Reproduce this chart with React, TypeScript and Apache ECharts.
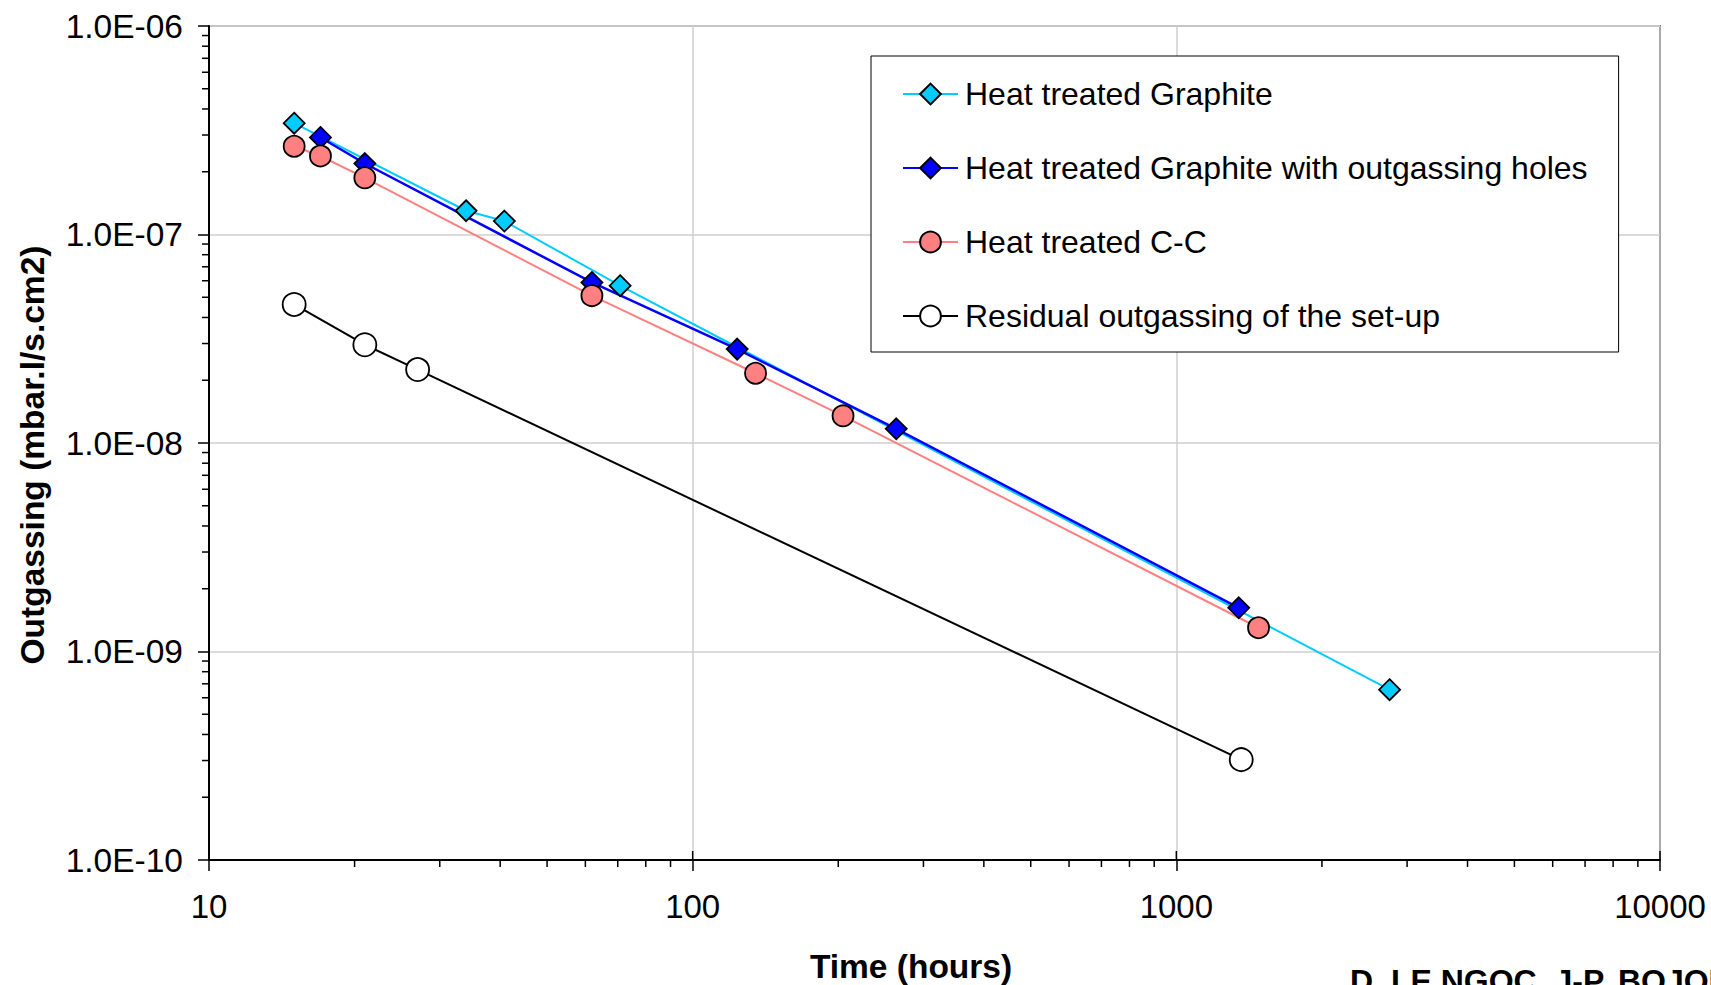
import React, { useEffect, useRef } from "react";
import * as echarts from "echarts";

// ---- Data ----
const xTickLabels = ["10", "100", "1000", "10000"];
const yTickLabels = ["1.0E-10", "1.0E-09", "1.0E-08", "1.0E-07", "1.0E-06"];

const seriesNames = [
  "Heat treated Graphite",
  "Heat treated Graphite with outgassing holes",
  "Heat treated C-C",
  "Residual outgassing of the set-up",
];

const graphiteX = [15, 34, 40.8, 70.8, 2760];
const graphiteY = [3.42e-7, 1.3e-7, 1.16e-7, 5.68e-8, 6.56e-10];

const holesX = [17, 21, 61.9, 123.6, 263.6, 1346];
const holesY = [2.92e-7, 2.19e-7, 5.89e-8, 2.82e-8, 1.17e-8, 1.62e-9];

const ccX = [15, 17, 21, 61.9, 134.9, 204.6, 1479];
const ccY = [2.65e-7, 2.38e-7, 1.87e-7, 5.09e-8, 2.16e-8, 1.35e-8, 1.3e-9];

const residualX = [15, 21, 27, 1362];
const residualY = [4.62e-8, 2.96e-8, 2.25e-8, 3.03e-10];

const xDecades = [10, 100, 1000];
const yDecades = [1e-10, 1e-9, 1e-8, 1e-7];
const minorMultipliers = [2, 3, 4, 5, 6, 7, 8, 9];

const FONT = 'Arial, "Liberation Sans", sans-serif';

const pairs = (xs: number[], ys: number[]) => xs.map((x, i) => [x, ys[i]]);

export default function App() {
  const ref = useRef<HTMLDivElement>(null);

  useEffect(() => {
    if (!ref.current) return;
    const chart = echarts.init(ref.current, undefined, { renderer: "svg" });

    const option: any = {
      animation: false,
      backgroundColor: "#ffffff",
      textStyle: { fontFamily: FONT },
      grid: {
        left: 209,
        top: 26,
        right: 51,
        bottom: 125,
        show: true,
        borderColor: "#000",
        borderWidth: 1.5,
        backgroundColor: "transparent",
      },
      legend: {
        orient: "vertical",
        left: 871,
        top: 56,
        padding: [22, 31, 20, 31],
        itemGap: 42,
        itemWidth: 55,
        itemHeight: 26,
        borderColor: "#000",
        borderWidth: 1,
        backgroundColor: "#fff",
        textStyle: { fontSize: 32, fontFamily: FONT, color: "#000", padding: [0, 0, 0, 2] },
        data: seriesNames,
      },
      xAxis: {
        type: "log",
        logBase: 10,
        min: 10,
        max: 10000,
        splitNumber: 3,
        axisLine: { show: true, lineStyle: { color: "#000", width: 2 } },
        axisTick: { show: true, inside: false, length: 11, lineStyle: { color: "#000", width: 1.5 } },
        axisLabel: {
          fontSize: 33,
          fontFamily: FONT,
          color: "#000",
          margin: 30,
          formatter: (v: number) => xTickLabels[Math.round(Math.log10(v)) - 1],
        },
        splitLine: { show: true, lineStyle: { color: "#cfcfcf", width: 1.5 } },
      },
      yAxis: {
        type: "log",
        logBase: 10,
        min: 1e-10,
        max: 1e-6,
        splitNumber: 4,
        axisLine: { show: true, lineStyle: { color: "#000", width: 2 } },
        axisTick: { show: true, inside: false, length: 11, lineStyle: { color: "#000", width: 1.5 } },
        axisLabel: {
          fontSize: 33.5,
          fontFamily: FONT,
          color: "#000",
          margin: 26,
          formatter: (v: number) => yTickLabels[Math.round(Math.log10(v)) + 10],
        },
        splitLine: { show: true, lineStyle: { color: "#cfcfcf", width: 1.5 } },
      },
      series: [
        {
          name: seriesNames[0],
          type: "line",
          data: pairs(graphiteX, graphiteY),
          symbol: "diamond",
          symbolSize: 21,
          lineStyle: { color: "#00CCFF", width: 2 },
          itemStyle: { color: "#00CCFF", borderColor: "#000", borderWidth: 1.8 },
        },
        {
          name: seriesNames[1],
          type: "line",
          data: pairs(holesX, holesY),
          symbol: "diamond",
          symbolSize: 21,
          lineStyle: { color: "#0000FF", width: 2.5 },
          itemStyle: { color: "#0000FF", borderColor: "#000", borderWidth: 1.8 },
        },
        {
          name: seriesNames[2],
          type: "line",
          data: pairs(ccX, ccY),
          symbol: "circle",
          symbolSize: 21,
          lineStyle: { color: "#FF8080", width: 2 },
          itemStyle: { color: "#FF8080", borderColor: "#000", borderWidth: 1.8 },
        },
        {
          name: seriesNames[3],
          type: "line",
          data: pairs(residualX, residualY),
          symbol: "circle",
          symbolSize: 23,
          lineStyle: { color: "#000", width: 2 },
          itemStyle: { color: "#fff", borderColor: "#000", borderWidth: 1.8 },
        },
      ],
    };

    chart.setOption(option);

    // Minor ticks and titles, positioned through the chart's own scales
    const yBottom = chart.convertToPixel({ yAxisIndex: 0 }, 1e-10) as number;
    const xLeft = chart.convertToPixel({ xAxisIndex: 0 }, 10) as number;
    const graphics: any[] = [];
    xDecades.forEach((d) => {
      minorMultipliers.forEach((m) => {
        const px = chart.convertToPixel({ xAxisIndex: 0 }, d * m) as number;
        graphics.push({
          type: "line",
          silent: true,
          shape: { x1: px, y1: yBottom, x2: px, y2: yBottom + 7 },
          style: { stroke: "#000", lineWidth: 1.5 },
        });
      });
      const pmaj = chart.convertToPixel({ xAxisIndex: 0 }, d * 10) as number;
      graphics.push({
        type: "line",
        silent: true,
        shape: { x1: pmaj, y1: yBottom - 9, x2: pmaj, y2: yBottom },
        style: { stroke: "#000", lineWidth: 1.5 },
      });
    });
    yDecades.forEach((d) => {
      minorMultipliers.forEach((m) => {
        const py = chart.convertToPixel({ yAxisIndex: 0 }, d * m) as number;
        graphics.push({
          type: "line",
          silent: true,
          shape: { x1: xLeft - 7, y1: py, x2: xLeft, y2: py },
          style: { stroke: "#000", lineWidth: 1.5 },
        });
      });
    });

    graphics.push(
      {
        type: "text",
        x: 32,
        y: 455,
        rotation: Math.PI / 2,
        style: {
          text: "Outgassing (mbar.l/s.cm2)",
          font: `bold 33.5px ${FONT}`,
          fill: "#000",
          align: "center",
          verticalAlign: "middle",
        },
      },
      {
        type: "text",
        x: 911,
        y: 966,
        style: {
          text: "Time (hours)",
          font: `bold 33.5px ${FONT}`,
          fill: "#000",
          align: "center",
          verticalAlign: "middle",
        },
      },
      {
        type: "text",
        x: 1350,
        y: 981,
        style: {
          text: "D. LE NGOC, J-P. BOJON",
          font: `bold 32px ${FONT}`,
          fill: "#000",
          align: "left",
          verticalAlign: "middle",
        },
      }
    );

    chart.setOption({ graphic: graphics });

    return () => {
      chart.dispose();
    };
  }, []);

  return (
    <div
      ref={ref}
      style={{ position: "absolute", left: 0, top: 0, width: 1711, height: 985, background: "#fff" }}
    />
  );
}
